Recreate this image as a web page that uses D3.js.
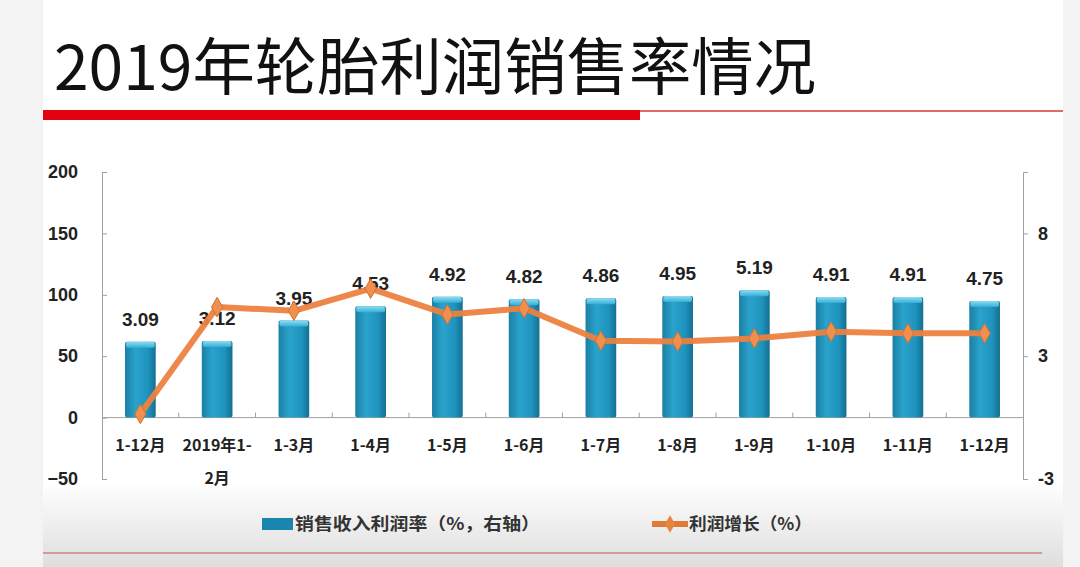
<!DOCTYPE html>
<html>
<head>
<meta charset="utf-8">
<script src="https://cdn.jsdelivr.net/npm/d3@7"></script>
<style>
  body { margin: 0; background: #fff; }
  svg { display: block; font-family: "Liberation Sans Narrow", "Noto Sans CJK SC", sans-serif; }
</style>
</head>
<body>
<div id="chart"></div>
<script>
// 数据
const months = ["1-12月", "2019年1-2月", "1-3月", "1-4月", "1-5月", "1-6月", "1-7月", "1-8月", "1-9月", "1-10月", "1-11月", "1-12月"];
const profitRate = [3.09, 3.12, 3.95, 4.53, 4.92, 4.82, 4.86, 4.95, 5.19, 4.91, 4.91, 4.75];   // 销售收入利润率（右轴）
const profitGrowth = [3, 90, 87, 105, 84, 89, 62.5, 62, 64.5, 70, 68.6, 68.6];              // 利润增长
const leftTicks = [-50, 0, 50, 100, 150, 200];
const rightTicks = [-2.5, 2.5, 7.5];

const W = 1080, H = 567;
const margin = {left: 102, right: 57, top: 172, bottom: 88};

const svg = d3.select("#chart").append("svg")
    .attr("width", W)
    .attr("height", H);

const defs = svg.append("defs");
const bg = defs.append("linearGradient").attr("id", "bg").attr("x1", 0).attr("y1", 0).attr("x2", 0).attr("y2", 1);
bg.append("stop").attr("offset", "0%").attr("stop-color", "#ffffff");
bg.append("stop").attr("offset", "85%").attr("stop-color", "#ffffff");
bg.append("stop").attr("offset", "100%").attr("stop-color", "#dedede");

// 柱子渐变
const barGrad = defs.append("linearGradient").attr("id", "barGrad").attr("x1", 0).attr("y1", 0).attr("x2", 1).attr("y2", 0);
barGrad.append("stop").attr("offset", "0%").attr("stop-color", "#1b7fa3");
barGrad.append("stop").attr("offset", "35%").attr("stop-color", "#2aa3cc");
barGrad.append("stop").attr("offset", "75%").attr("stop-color", "#1e93bd");
barGrad.append("stop").attr("offset", "100%").attr("stop-color", "#156f92");
const capGrad = defs.append("linearGradient").attr("id", "capGrad").attr("x1", 0).attr("y1", 0).attr("x2", 0).attr("y2", 1);
capGrad.append("stop").attr("offset", "0%").attr("stop-color", "#8fdcf2");
capGrad.append("stop").attr("offset", "100%").attr("stop-color", "#34afd6");

// 背景
svg.append("rect").attr("width", W).attr("height", H).attr("fill", "#f3f3f3");
svg.append("rect").attr("x", 43).attr("y", 0).attr("width", 1020).attr("height", H).attr("fill", "url(#bg)");

// 标题
svg.append("text")
    .attr("x", 54).attr("y", 90)
    .attr("font-family", "'Noto Sans CJK SC', sans-serif")
    .attr("font-size", 62)
    .attr("textLength", 762)
    .attr("lengthAdjust", "spacingAndGlyphs")
    .attr("fill", "#111")
    .text("2019年轮胎利润销售率情况");

svg.append("line").attr("x1", 43).attr("x2", 1063).attr("y1", 111).attr("y2", 111)
    .attr("stroke", "#d23a3a").attr("stroke-width", 1.5);
svg.append("rect").attr("x", 43).attr("y", 110).attr("width", 597).attr("height", 10).attr("fill", "#e3000f");

// 比例尺
const x = d3.scaleBand()
    .domain(d3.range(months.length))
    .range([margin.left, W - margin.right])
    .paddingInner(0.6)
    .paddingOuter(0.3);

const band = d3.scaleBand()
    .domain(d3.range(months.length))
    .range([margin.left, W - margin.right]);

const yL = d3.scaleLinear().domain([-50, 200]).range([H - margin.bottom, margin.top]);
const yR = d3.scaleLinear().domain([-2.5, 10]).range([H - margin.bottom, margin.top]);

const axisColor = "#a0a0a0";
const tickFont = "'Liberation Sans Narrow', 'Liberation Sans', sans-serif";

// 左轴
const gl = svg.append("g").attr("transform", "translate(" + margin.left + ",0)")
    .call(d3.axisLeft(yL).tickValues(leftTicks).tickSize(-5).tickPadding(24));
gl.select(".domain").attr("stroke", axisColor);
gl.selectAll(".tick line").attr("stroke", axisColor);
gl.selectAll("text").attr("font-family", tickFont).attr("font-weight", "bold")
    .attr("font-size", 18).attr("fill", "#222");

// 右轴
const gr = svg.append("g").attr("transform", "translate(" + (W - margin.right) + ",0)")
    .call(d3.axisRight(yR).tickValues(rightTicks).tickSize(5).tickPadding(10)
        .tickFormat(d => d.toFixed(0)));
gr.select(".domain").attr("stroke", axisColor);
gr.selectAll(".tick line").attr("stroke", axisColor);
gr.selectAll("text").attr("font-family", tickFont).attr("font-weight", "bold")
    .attr("font-size", 18).attr("fill", "#222");

// x轴（零线）
svg.append("line")
    .attr("x1", margin.left).attr("x2", W - margin.right)
    .attr("y1", yL(0)).attr("y2", yL(0))
    .attr("stroke", axisColor);
svg.selectAll(".xtick")
    .data(d3.range(1, months.length))
    .enter().append("line")
    .attr("x1", d => band(d)).attr("x2", d => band(d))
    .attr("y1", yL(0) - 5).attr("y2", yL(0))
    .attr("stroke", axisColor);

const xl = svg.selectAll(".xlabel")
    .data(months)
    .enter().append("text")
    .attr("x", (d, i) => band(i) + band.bandwidth() / 2)
    .attr("y", yL(0) + 33)
    .attr("text-anchor", "middle")
    .attr("font-family", "'Noto Sans CJK SC', sans-serif")
    .attr("font-weight", "bold")
    .attr("font-size", 16)
    .attr("fill", "#222");
xl.each(function (d) {
    const t = d3.select(this);
    if (d === "2019年1-2月") {
        t.append("tspan").attr("x", t.attr("x")).text("2019年1-");
        t.append("tspan").attr("x", t.attr("x")).attr("dy", 33).text("2月");
    } else {
        t.text(d);
    }
});

// 柱子
const bars = svg.selectAll(".bar")
    .data(profitRate)
    .enter().append("g");
bars.append("rect")
    .attr("x", (d, i) => x(i))
    .attr("y", d => yR(d))
    .attr("width", x.bandwidth())
    .attr("height", d => yR(0) - yR(d))
    .attr("rx", 2)
    .attr("fill", "url(#barGrad)");
bars.append("rect")
    .attr("x", (d, i) => x(i) + 1)
    .attr("y", d => yR(d))
    .attr("width", x.bandwidth() - 2)
    .attr("height", 6)
    .attr("rx", 2)
    .attr("fill", "url(#capGrad)");

// 柱顶标签
svg.selectAll(".blabel")
    .data(profitRate)
    .enter().append("text")
    .attr("x", (d, i) => x(i) + x.bandwidth() / 2)
    .attr("y", d => yR(d) - 16)
    .attr("text-anchor", "middle")
    .attr("font-family", tickFont)
    .attr("font-weight", "bold")
    .attr("font-size", 19)
    .attr("fill", "#222")
    .text(d => d.toFixed(2));

// 折线
const line = d3.line()
    .x((d, i) => x(i) + x.bandwidth() / 2)
    .y(d => yL(d));
svg.append("path")
    .datum(profitGrowth)
    .attr("d", line)
    .attr("fill", "none")
    .attr("stroke", "#ec8140")
    .attr("stroke-width", 6)
    .attr("stroke-linejoin", "round")
    .attr("opacity", 0.95);

const diamond = d3.symbol().type(d3.symbolDiamond).size(110);
svg.selectAll(".marker")
    .data(profitGrowth)
    .enter().append("path")
    .attr("d", diamond)
    .attr("transform", (d, i) => "translate(" + (x(i) + x.bandwidth() / 2) + "," + yL(d) + ")")
    .attr("fill", "#f09050")
    .attr("stroke", "#d8702c")
    .attr("stroke-width", 1);

// 图例
const legend = svg.append("g").attr("font-family", "'Noto Sans CJK SC', sans-serif")
    .attr("font-weight", "bold").attr("font-size", 17).attr("fill", "#333");
legend.append("rect").attr("x", 262).attr("y", 518).attr("width", 31).attr("height", 12)
    .attr("fill", "#1a85ad");
legend.append("text").attr("x", 295).attr("y", 530).attr("textLength", 245)
    .attr("lengthAdjust", "spacingAndGlyphs").text("销售收入利润率（%，右轴）");
legend.append("line").attr("x1", 652).attr("x2", 688).attr("y1", 524).attr("y2", 524)
    .attr("stroke", "#e07a3a").attr("stroke-width", 6);
legend.append("path").attr("d", d3.symbol().type(d3.symbolDiamond).size(90))
    .attr("transform", "translate(670,524)").attr("fill", "#e8843e");
legend.append("text").attr("x", 689).attr("y", 530).attr("textLength", 123)
    .attr("lengthAdjust", "spacingAndGlyphs").text("利润增长（%）");

// 底部线
svg.append("line").attr("x1", 43).attr("x2", 1042).attr("y1", 553).attr("y2", 553)
    .attr("stroke", "#d49a9a").attr("stroke-width", 2);
</script>
</body>
</html>
